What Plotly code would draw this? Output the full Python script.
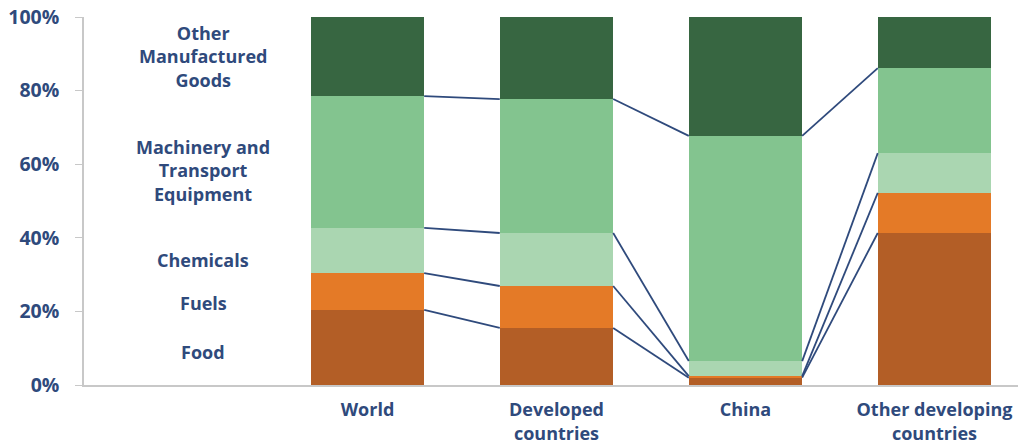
import plotly.graph_objects as go

categories = ["World", "Developed<br>countries", "China", "Other developing<br>countries"]
series_names = ["Food", "Fuels", "Chemicals", "Machinery and Transport Equipment", "Other Manufactured Goods"]
series_labels = ["Food", "Fuels", "Chemicals", "Machinery and<br>Transport<br>Equipment",
                 "Other<br>Manufactured<br>Goods"]
food = [20.4, 15.5, 2.0, 41.3]
fuels = [10.0, 11.4, 0.4, 10.9]
chemicals = [12.3, 14.4, 4.1, 10.8]
machinery = [35.8, 36.4, 61.2, 23.1]
other = [21.5, 22.3, 32.3, 13.9]
label_y = [9.0, 22.3, 34.0, 58.2, 89.4]   # percent heights of left-hand label centres
yticks = [0, 20, 40, 60, 80, 100]

colors = ["#B35E26", "#E47A27", "#AAD6B1", "#83C48F", "#376641"]
navy = "#2F4A7C"
series = [food, fuels, chemicals, machinery, other]
xpos = [1, 2, 3, 4]
bar_w = 0.6

fig = go.Figure()
for name, vals, col in zip(series_names, series, colors):
    fig.add_trace(go.Bar(x=xpos, y=vals, name=name, marker=dict(color=col, line=dict(width=0)),
                         width=bar_w, showlegend=False))

# cumulative boundaries and connector lines
cum = []
for i in range(len(xpos)):
    s = 0
    row = []
    for k in range(4):
        s += series[k][i]
        row.append(s)
    cum.append(row)
for i in range(len(xpos) - 1):
    for k in range(4):
        fig.add_trace(go.Scatter(x=[xpos[i] + bar_w / 2, xpos[i + 1] - bar_w / 2],
                                 y=[cum[i][k], cum[i + 1][k]], mode="lines",
                                 line=dict(color=navy, width=1.8), showlegend=False,
                                 hoverinfo="skip"))

for lab, yv in zip(series_labels, label_y):
    fig.add_annotation(x=0.13, y=yv, text=lab, showarrow=False, xref="x", yref="y",
                       font=dict(family="Open Sans", size=18, color=navy, weight="bold"),
                       align="center")

fig.update_layout(
    barmode="stack",
    width=1018, height=446,
    margin=dict(l=84, r=0, t=17, b=61),
    plot_bgcolor="white", paper_bgcolor="white",
    bargap=0,
    xaxis=dict(range=[-0.5, 4.442], tickvals=xpos, ticktext=categories, showgrid=False,
               zeroline=False, showline=True, linecolor="#C8C8C8", linewidth=1.5, ticks="",
               ticklabelstandoff=8, automargin=False, ticklabeloverflow="allow",
               tickfont=dict(family="Open Sans", size=18, color=navy, weight="bold")),
    yaxis=dict(range=[0, 100], tickvals=yticks, ticktext=[f"{v}%" for v in yticks],
               showgrid=False, zeroline=False, showline=True, linecolor="#C8C8C8", linewidth=1.5,
               ticks="outside", ticklen=7, tickcolor="#C8C8C8", ticklabelstandoff=12,
               automargin=False, ticklabeloverflow="allow",
               tickfont=dict(family="Open Sans", size=19.5, color=navy, weight="bold")),
)

fig.write_html("out.html")
